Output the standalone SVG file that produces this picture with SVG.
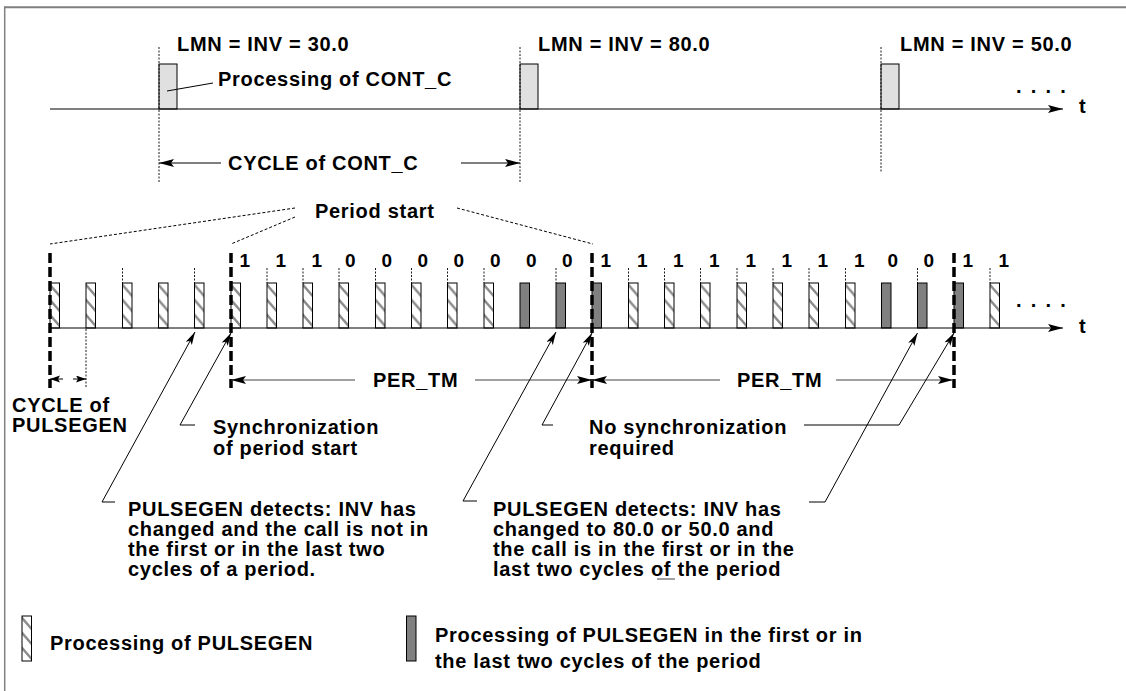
<svg xmlns="http://www.w3.org/2000/svg" xmlns:xlink="http://www.w3.org/1999/xlink" width="1126" height="691" viewBox="0 0 1126 691">
<style>
text{font-family:"Liberation Sans",Arial,sans-serif;font-weight:bold;font-size:20px;letter-spacing:0.7px;fill:#000}
.dig{font-size:19px;letter-spacing:0}
.ax{stroke:#000;stroke-width:1.2;fill:none}
.dot{stroke:#000;stroke-width:0.9;stroke-dasharray:2 1.5;fill:none}
.ps{stroke:#000;stroke-width:1;stroke-dasharray:3 2;fill:none}
.thick{stroke:#000;stroke-width:3.5;stroke-dasharray:10 4;fill:none}
.ld{stroke:#000;stroke-width:1;fill:none}
.pt{stroke:#444;stroke-width:1.2;fill:none}
.cc{fill:#e0e0e0;stroke:#000;stroke-width:1}
.dk{fill:#808080;stroke:#000;stroke-width:1}
.frame{stroke:#808080;fill:none}
</style>
<defs>
<marker id="ah" markerUnits="userSpaceOnUse" markerWidth="16" markerHeight="10" refX="15" refY="4" orient="auto"><path d="M0,0 L15,4 L0,8 L3,4 Z" fill="#000"/></marker>
<marker id="ahs" markerUnits="userSpaceOnUse" markerWidth="11" markerHeight="8" refX="10" refY="3.5" orient="auto"><path d="M0,0 L10,3.5 L0,7 L2,3.5 Z" fill="#000"/></marker>
<marker id="ahl" markerUnits="userSpaceOnUse" markerWidth="14" markerHeight="9" refX="13" refY="3.5" orient="auto"><path d="M0,0 L13,3.5 L0,7 L3,3.5 Z" fill="#000"/></marker>
<pattern id="hatch" patternUnits="userSpaceOnUse" x="0" y="0" width="20" height="15">
<path d="M-1,0.8 L11,14.6" stroke="#8c8c8c" stroke-width="2.4"/>
</pattern>
<g id="hp"><rect x="0" y="0" width="9.5" height="45" fill="#fff"/><rect x="0" y="0" width="9.5" height="45" fill="url(#hatch)" stroke="#000" stroke-width="1"/></g>
<rect id="dp" x="0" y="0" width="9.5" height="45" class="dk"/>
</defs>

<g id="frame">
<line class="frame" x1="4.7" y1="7.3" x2="1126" y2="7.3" stroke-width="2"/>
<line class="frame" x1="4.7" y1="6.3" x2="4.7" y2="691" stroke-width="1.5"/>
</g>

<g id="contc-row">
<rect class="cc" x="159" y="64" width="18" height="45"/>
<rect class="cc" x="520" y="64" width="18" height="45"/>
<rect class="cc" x="881" y="64" width="18" height="45"/>
</g>

<g id="pulses">
<use xlink:href="#hp" x="50" y="283"/>
<use xlink:href="#hp" x="86" y="283"/>
<use xlink:href="#hp" x="122.5" y="283"/>
<use xlink:href="#hp" x="158.5" y="283"/>
<use xlink:href="#hp" x="194.5" y="283"/>
<use xlink:href="#hp" x="231" y="283"/>
<use xlink:href="#hp" x="267" y="283"/>
<use xlink:href="#hp" x="303" y="283"/>
<use xlink:href="#hp" x="339" y="283"/>
<use xlink:href="#hp" x="375.5" y="283"/>
<use xlink:href="#hp" x="411.5" y="283"/>
<use xlink:href="#hp" x="447.5" y="283"/>
<use xlink:href="#hp" x="484" y="283"/>
<use xlink:href="#dp" x="520" y="283"/>
<use xlink:href="#dp" x="556" y="283"/>
<use xlink:href="#dp" x="592" y="283"/>
<use xlink:href="#hp" x="628.5" y="283"/>
<use xlink:href="#hp" x="664.5" y="283"/>
<use xlink:href="#hp" x="700.5" y="283"/>
<use xlink:href="#hp" x="737" y="283"/>
<use xlink:href="#hp" x="773" y="283"/>
<use xlink:href="#hp" x="809" y="283"/>
<use xlink:href="#hp" x="845.5" y="283"/>
<use xlink:href="#dp" x="881.5" y="283"/>
<use xlink:href="#dp" x="917.5" y="283"/>
<use xlink:href="#dp" x="954" y="283"/>
<use xlink:href="#hp" x="990" y="283"/>
</g>

<g id="connectors">
<path class="ax" d="M50,109 H1063" marker-end="url(#ah)"/>
<path class="ax" d="M50,328 H1063" marker-end="url(#ah)"/>
<path class="dot" d="M159,47 V182 M520,47 V182 M881,47 V173"/>
<path class="ld" d="M221,163 H159" marker-end="url(#ah)"/>
<path class="ld" d="M461,163 H520" marker-end="url(#ah)"/>
<path class="ld" d="M167,91 L213,83"/>
<path class="ps" d="M295,208 L50,244 M295,217 L231,244 M457,208 L593,244"/>
<path class="dot" d="M122.5,268 V283 M194.5,268 V283 M267,268 V283 M303,268 V283 M339,268 V283 M375.5,268 V283 M411.5,268 V283 M447.5,268 V283 M484,268 V283 M556,268 V283 M628.5,268 V283 M664.5,268 V283 M700.5,268 V283 M737,268 V283 M773,268 V283 M809,268 V283 M845.5,268 V283 M917.5,268 V283 M990,268 V283"/>
<path class="dot" d="M86,329 V388"/>
<path class="thick" d="M50,253 V388 M231,253 V388 M592,253 V388 M954,253 V388"/>
<path class="ld" d="M63,379 H50" marker-end="url(#ahs)"/>
<path class="ld" d="M73,379 H86" marker-end="url(#ahs)"/>
<path class="pt" d="M355,380 H231" marker-end="url(#ah)"/>
<path class="pt" d="M475,380 H592" marker-end="url(#ah)"/>
<path class="pt" d="M720,380 H592" marker-end="url(#ah)"/>
<path class="pt" d="M836,380 H953" marker-end="url(#ah)"/>
<path class="ld" d="M115,502 H102 L195,332" marker-end="url(#ahl)"/>
<path class="ld" d="M195,425 H180 L231,333" marker-end="url(#ahl)"/>
<path class="ld" d="M477,501 H463 L556,332" marker-end="url(#ahl)"/>
<path class="ld" d="M809,502 H825 L917.5,333" marker-end="url(#ahl)"/>
<path class="ld" d="M553,425 H542 L592,333" marker-end="url(#ahl)"/>
<path class="ld" d="M804,425 H899 L954,333" marker-end="url(#ahl)"/>
</g>

<g id="labels-top">
<text x="177" y="51">LMN = INV = 30.0</text>
<text x="538" y="51">LMN = INV = 80.0</text>
<text x="900" y="51">LMN = INV = 50.0</text>
<text x="218" y="86">Processing of CONT_C</text>
<text x="228" y="170">CYCLE of CONT_C</text>
<text x="1016" y="93" style="letter-spacing:1.8px">. . . .</text>
<text x="1079" y="113">t</text>
</g>

<g id="label-period-start"><text x="315" y="218">Period start</text></g>

<g id="digits">
<text class="dig" x="239.5" y="267">1</text>
<text class="dig" x="275.5" y="267">1</text>
<text class="dig" x="311.5" y="267">1</text>
<text class="dig" x="345" y="267">0</text>
<text class="dig" x="381.5" y="267">0</text>
<text class="dig" x="417.5" y="267">0</text>
<text class="dig" x="453.5" y="267">0</text>
<text class="dig" x="490" y="267">0</text>
<text class="dig" x="526" y="267">0</text>
<text class="dig" x="562" y="267">0</text>
<text class="dig" x="600.5" y="267">1</text>
<text class="dig" x="637" y="267">1</text>
<text class="dig" x="673" y="267">1</text>
<text class="dig" x="709" y="267">1</text>
<text class="dig" x="745.5" y="267">1</text>
<text class="dig" x="781.5" y="267">1</text>
<text class="dig" x="817.5" y="267">1</text>
<text class="dig" x="854" y="267">1</text>
<text class="dig" x="887.5" y="267">0</text>
<text class="dig" x="923.5" y="267">0</text>
<text class="dig" x="962.5" y="267">1</text>
<text class="dig" x="998.5" y="267">1</text>
</g>

<g id="labels-mid">
<text x="1016" y="307" style="letter-spacing:1.8px">. . . .</text>
<text x="1079" y="333">t</text>
<text x="373" y="387">PER_TM</text>
<text x="737" y="387">PER_TM</text>
<text x="12" y="412">CYCLE of</text>
<text x="12" y="432">PULSEGEN</text>
</g>

<g id="label-sync">
<text x="213" y="434">Synchronization</text>
<text x="213" y="455">of period start</text>
</g>
<g id="label-nosync">
<text x="589" y="434">No synchronization</text>
<text x="589" y="455">required</text>
</g>

<g id="label-detect-left">
<text x="128" y="516">PULSEGEN detects: INV has</text>
<text x="128" y="536">changed and the call is not in</text>
<text x="128" y="556">the first or in the last two</text>
<text x="128" y="576">cycles of a period.</text>
</g>
<g id="label-detect-right">
<text x="493" y="516">PULSEGEN detects: INV has</text>
<text x="493" y="536">changed to 80.0 or 50.0 and</text>
<text x="493" y="556">the call is in the first or in the</text>
<text x="493" y="576">last two cycles of the period</text>
<line x1="657" y1="579" x2="675" y2="579" stroke="#808080" stroke-width="1.5"/>
</g>

<g id="legend-hatched">
<use xlink:href="#hp" x="22" y="616"/>
<text x="50" y="650">Processing of PULSEGEN</text>
</g>
<g id="legend-dark">
<use xlink:href="#dp" x="406.5" y="616"/>
<text x="435" y="642">Processing of PULSEGEN in the first or in</text>
<text x="435" y="668">the last two cycles of the period</text>
</g>
</svg>
